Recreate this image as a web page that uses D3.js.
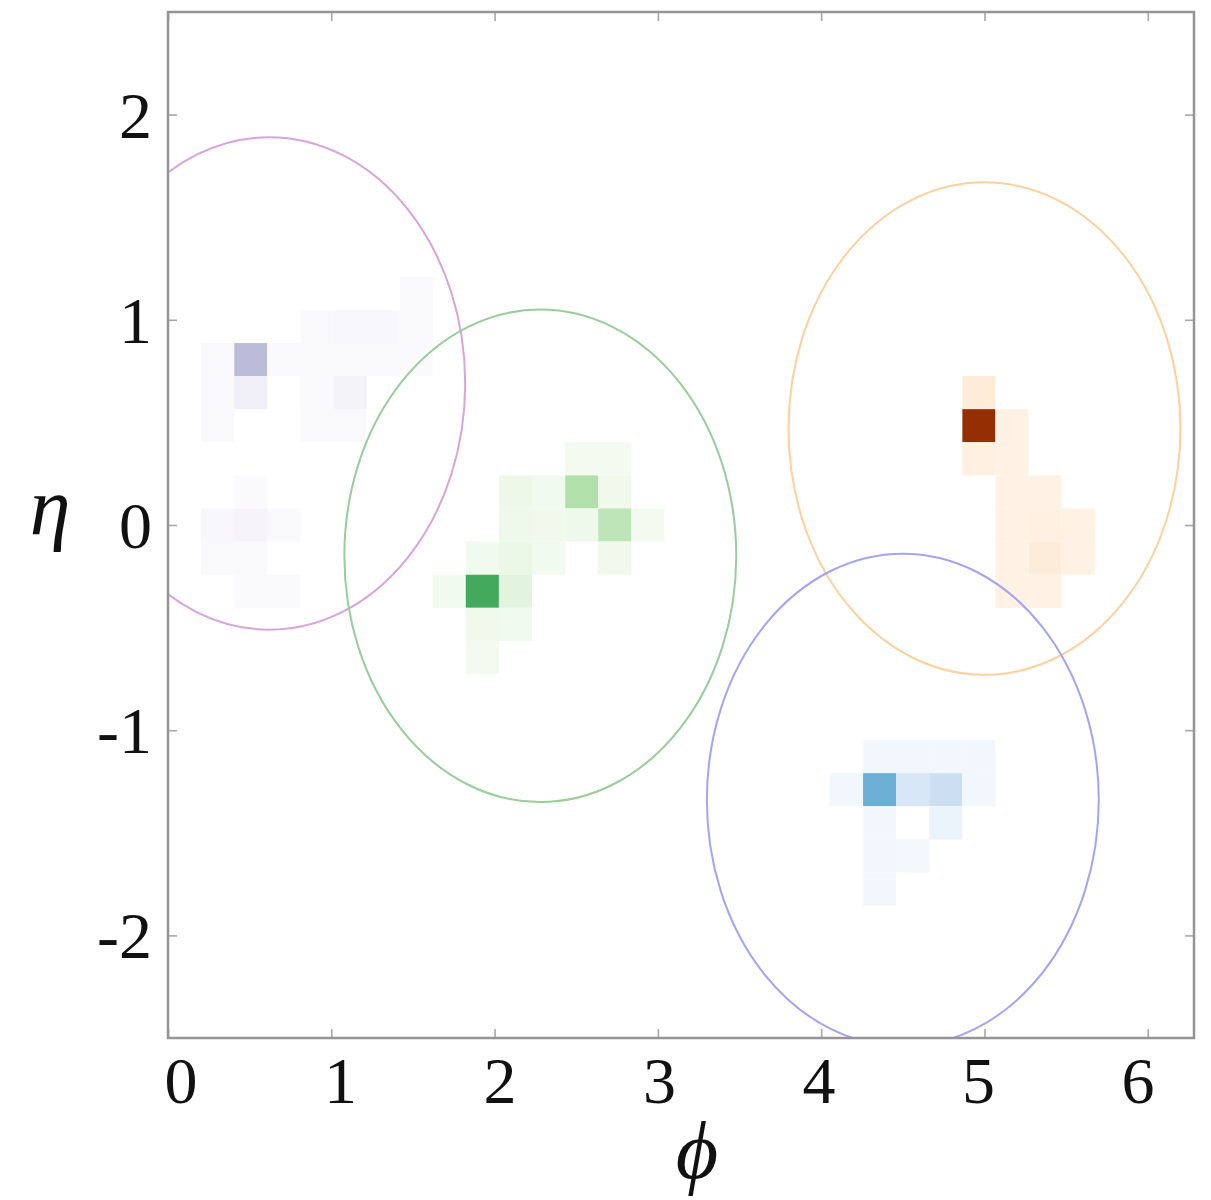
<!DOCTYPE html>
<html>
<head>
<meta charset="utf-8">
<script src="https://cdn.jsdelivr.net/npm/d3@7"></script>
<style>
  html, body { margin: 0; padding: 0; background: #fff; }
  svg { display: block; }
</style>
</head>
<body>
<script>
// ---------------- DATA ----------------
// axis ticks
const phiTicks = [0, 1, 2, 3, 4, 5, 6];
const etaTicks = [-2, -1, 0, 1, 2];
const phiDomain = [0, 2 * Math.PI];
const etaDomain = [-2.5, 2.5];
// calorimeter binning (31 x 31 cells)
const nPhiBins = 31;
const nEtaBins = 31;

// jet cells: [phi (bin centre), eta (bin centre), relative energy 0..1]
const purpleCells = [
  [1.520, 1.129, 0.03],
  [0.912, 0.968, 0.025], [1.115, 0.968, 0.035], [1.317, 0.968, 0.035], [1.520, 0.968, 0.03],
  [0.304, 0.806, 0.03], [0.507, 0.806, 0.38], [0.709, 0.806, 0.025], [0.912, 0.806, 0.03],
  [1.115, 0.806, 0.025], [1.317, 0.806, 0.025], [1.520, 0.806, 0.02],
  [0.304, 0.645, 0.025], [0.507, 0.645, 0.11], [0.912, 0.645, 0.02], [1.115, 0.645, 0.07],
  [0.304, 0.484, 0.025], [0.912, 0.484, 0.025], [1.115, 0.484, 0.025],
  [0.507, 0.161, 0.02],
  [0.304, 0.000, 0.035], [0.507, 0.000, 0.06], [0.709, 0.000, 0.025],
  [0.304, -0.161, 0.03], [0.507, -0.161, 0.025],
  [0.507, -0.323, 0.02], [0.709, -0.323, 0.02]
];
const greenCells = [
  [2.534, 0.323, 0.03], [2.736, 0.323, 0.03],
  [2.128, 0.161, 0.07], [2.331, 0.161, 0.04], [2.534, 0.161, 0.32], [2.736, 0.161, 0.05],
  [2.128, 0.000, 0.06], [2.331, 0.000, 0.05], [2.534, 0.000, 0.06], [2.736, 0.000, 0.28], [2.939, 0.000, 0.03],
  [1.925, -0.161, 0.04], [2.128, -0.161, 0.08], [2.331, -0.161, 0.04], [2.736, -0.161, 0.05],
  [1.723, -0.323, 0.04], [1.925, -0.323, 0.63], [2.128, -0.323, 0.13],
  [1.925, -0.484, 0.05], [2.128, -0.484, 0.04],
  [1.925, -0.645, 0.03]
];
const orangeCells = [
  [4.966, 0.645, 0.08],
  [4.966, 0.484, 0.93], [5.168, 0.484, 0.03],
  [4.966, 0.323, 0.04], [5.168, 0.323, 0.03],
  [5.168, 0.161, 0.03], [5.371, 0.161, 0.03],
  [5.168, 0.000, 0.035], [5.371, 0.000, 0.04], [5.574, 0.000, 0.035],
  [5.168, -0.161, 0.035], [5.371, -0.161, 0.07], [5.574, -0.161, 0.035],
  [5.168, -0.323, 0.03], [5.371, -0.323, 0.03]
];
const blueCells = [
  [4.358, -1.129, 0.03], [4.560, -1.129, 0.03], [4.763, -1.129, 0.03], [4.966, -1.129, 0.03],
  [4.155, -1.290, 0.03], [4.358, -1.290, 0.50], [4.560, -1.290, 0.16], [4.763, -1.290, 0.22], [4.966, -1.290, 0.03],
  [4.358, -1.452, 0.03], [4.763, -1.452, 0.06],
  [4.358, -1.613, 0.03], [4.560, -1.613, 0.02],
  [4.358, -1.774, 0.03]
];

// jet axes [phi, eta] and jet radius
const jetNames   = ["purple", "green", "orange", "blue"];
const jetPhi     = [0.62, 2.28, 5.00, 4.50];
const jetEta     = [0.69, -0.15, 0.47, -1.34];
const jetRadius  = 1.2;

// ---------------- STYLE / LAYOUT ----------------
const W = 1211, H = 1200;
const plot = { left: 168, top: 12, width: 1026, height: 1026 };
const jetStyle = {
  purple: { interp: d3.interpolatePurples, ring: "#d9a3dc" },
  green:  { interp: d3.interpolateGreens,  ring: "#99cd99" },
  orange: { interp: d3.interpolateOranges, ring: "#fdd09c" },
  blue:   { interp: d3.interpolateBlues,   ring: "#a4a4f6" }
};
const cellsByJet = { purple: purpleCells, green: greenCells, orange: orangeCells, blue: blueCells };

const svg = d3.select("body").append("svg")
  .attr("width", W).attr("height", H)
  .style("font-family", "'Liberation Serif', 'Times New Roman', serif");

const x = d3.scaleLinear().domain(phiDomain).range([plot.left, plot.left + plot.width]);
const y = d3.scaleLinear().domain(etaDomain).range([plot.top + plot.height, plot.top]);
const dPhi = (phiDomain[1] - phiDomain[0]) / nPhiBins;
const dEta = (etaDomain[1] - etaDomain[0]) / nEtaBins;

svg.append("defs").append("clipPath").attr("id", "clip")
  .append("rect")
  .attr("x", plot.left).attr("y", plot.top)
  .attr("width", plot.width).attr("height", plot.height);

const g = svg.append("g").attr("clip-path", "url(#clip)");

// heatmap cells
jetNames.forEach(name => {
  const interp = jetStyle[name].interp;
  g.append("g").selectAll("rect")
    .data(cellsByJet[name])
    .join("rect")
    .attr("x", d => x(d[0] - dPhi / 2))
    .attr("y", d => y(d[1] + dEta / 2))
    .attr("width", d => x(d[0] + dPhi / 2) - x(d[0] - dPhi / 2))
    .attr("height", d => y(d[1] - dEta / 2) - y(d[1] + dEta / 2))
    .attr("fill", d => interp(d[2]));
});

// jet cones
g.append("g").selectAll("ellipse")
  .data(jetNames.map((n, i) => ({ name: n, phi: jetPhi[i], eta: jetEta[i] })))
  .join("ellipse")
  .attr("cx", d => x(d.phi))
  .attr("cy", d => y(d.eta))
  .attr("rx", x(jetRadius) - x(0))
  .attr("ry", y(0) - y(jetRadius))
  .attr("fill", "none")
  .attr("stroke", d => jetStyle[d.name].ring)
  .attr("stroke-width", 2);

// axes (ticks inside, on all four sides)
const tickLen = 9;
const axStyle = sel => {
  sel.select(".domain").remove();
  sel.selectAll(".tick line").attr("stroke", "#a8a8a8").attr("stroke-width", 1.6);
  sel.selectAll(".tick text").remove();
};
svg.append("g").attr("transform", `translate(0,${plot.top + plot.height})`)
  .call(d3.axisBottom(x).tickValues(phiTicks).tickSize(-tickLen)).call(axStyle);
svg.append("g").attr("transform", `translate(0,${plot.top})`)
  .call(d3.axisTop(x).tickValues(phiTicks).tickSize(-tickLen)).call(axStyle);
svg.append("g").attr("transform", `translate(${plot.left},0)`)
  .call(d3.axisLeft(y).tickValues(etaTicks).tickSize(-tickLen)).call(axStyle);
svg.append("g").attr("transform", `translate(${plot.left + plot.width},0)`)
  .call(d3.axisRight(y).tickValues(etaTicks).tickSize(-tickLen)).call(axStyle);

// frame
svg.append("rect")
  .attr("x", plot.left).attr("y", plot.top)
  .attr("width", plot.width).attr("height", plot.height)
  .attr("fill", "none").attr("stroke", "#959595").attr("stroke-width", 2.5);

// tick labels
const xLab = d3.scaleLinear().domain([0, 6]).range([181, 1138]);
svg.append("g").selectAll("text")
  .data(phiTicks).join("text")
  .attr("x", d => xLab(d))
  .attr("y", 1103)
  .attr("text-anchor", "middle")
  .attr("font-size", 66)
  .attr("fill", "#111")
  .text(d => String(d));
svg.append("g").selectAll("text")
  .data(etaTicks).join("text")
  .attr("x", 152)
  .attr("y", d => y(d) + 23)
  .attr("text-anchor", "end")
  .attr("font-size", 66)
  .attr("fill", "#111")
  .text(d => String(d));

// axis titles
svg.append("text")
  .attr("x", 697).attr("y", 1178)
  .attr("text-anchor", "middle")
  .attr("font-size", 82).attr("font-style", "italic")
  .attr("fill", "#111")
  .text("\u03D5");
svg.append("text")
  .attr("x", 50).attr("y", 534)
  .attr("text-anchor", "middle")
  .attr("font-size", 82).attr("font-style", "italic")
  .attr("fill", "#111")
  .text("\u03B7");
</script>
</body>
</html>
